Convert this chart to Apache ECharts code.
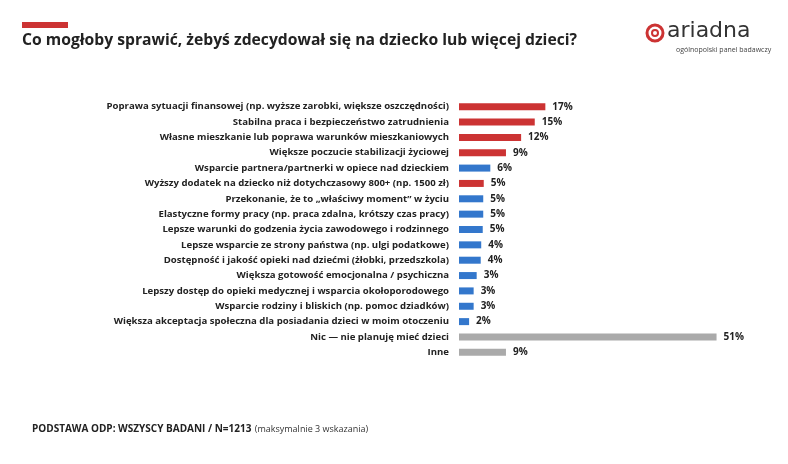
<!DOCTYPE html>
<html><head><meta charset="utf-8">
<script src="https://cdn.jsdelivr.net/npm/echarts@6/dist/echarts.min.js"></script>
<style>body{margin:0}#c{width:788px;height:464px}</style></head>
<body><div id="c"></div>
<script>
const categories = [
"Poprawa sytuacji finansowej (np. wyższe zarobki, większe oszczędności)",
"Stabilna praca i bezpieczeństwo zatrudnienia",
"Własne mieszkanie lub poprawa warunków mieszkaniowych",
"Większe poczucie stabilizacji życiowej",
"Wsparcie partnera/partnerki w opiece nad dzieckiem",
"Wyższy dodatek na dziecko niż dotychczasowy 800+ (np. 1500 zł)",
"Przekonanie, że to „właściwy moment” w życiu",
"Elastyczne formy pracy (np. praca zdalna, krótszy czas pracy)",
"Lepsze warunki do godzenia życia zawodowego i rodzinnego",
"Lepsze wsparcie ze strony państwa (np. ulgi podatkowe)",
"Dostępność i jakość opieki nad dziećmi (żłobki, przedszkola)",
"Większa gotowość emocjonalna / psychiczna",
"Lepszy dostęp do opieki medycznej i wsparcia okołoporodowego",
"Wsparcie rodziny i bliskich (np. pomoc dziadków)",
"Większa akceptacja społeczna dla posiadania dzieci w moim otoczeniu",
"Nic — nie planuję mieć dzieci",
"Inne"];
const values = [17.1,15.0,12.3,9.3,6.2,4.9,4.8,4.8,4.7,4.4,4.3,3.5,2.9,2.9,2.0,51.0,9.3];
const labels = ["17%","15%","12%","9%","6%","5%","5%","5%","5%","4%","4%","3%","3%","3%","2%","51%","9%"];
const groups = ["r","r","r","r","b","r","b","b","b","b","b","b","b","b","b","g","g"];
const colors = {r:"#cc3333",b:"#3377cc",g:"#aaaaaa"};
const chart = echarts.init(document.getElementById('c'));
chart.setOption({
  animation:false,
  graphic:[
    {type:'rect',shape:{x:22,y:22,width:46,height:6},style:{fill:'#cc3333'}},
    {type:'text',left:22,top:33,style:{text:'Co mogłoby sprawić, żebyś zdecydował się na dziecko lub więcej dzieci?',font:'bold 15.7px "Open Sans"',fill:'#222'}},
    {type:'circle',shape:{cx:655,cy:33,r:8},style:{fill:'none',stroke:'#cc3333',lineWidth:3}},
    {type:'circle',shape:{cx:655,cy:33,r:3},style:{fill:'none',stroke:'#cc3333',lineWidth:2}},
    {type:'text',left:667,top:20,style:{text:'ariadna',font:'22px "DejaVu Sans"',fill:'#333'}},
    {type:'text',left:676,top:46,style:{text:'ogólnopolski panel badawczy',font:'7px "Open Sans"',fill:'#444'}},
    {type:'text',left:32,top:423,style:{rich:{a:{font:'bold 10px "Open Sans"',fill:'#222'},b:{font:'9px "Open Sans"',fill:'#333'}},text:'{a|PODSTAWA ODP: WSZYSCY BADANI / N=1213} {b|(maksymalnie 3 wskazania)}'}}
  ],
  grid:{left:459,right:26,top:99,bottom:104},
  xAxis:{type:'value',min:0,max:60,show:false},
  yAxis:{type:'category',inverse:true,data:categories,axisLine:{show:false},axisTick:{show:false},
    axisLabel:{margin:10,fontFamily:'Open Sans',fontWeight:'bold',fontSize:9.6,color:'#222'}},
  series:[{type:'bar',barWidth:7,
    data:values.map((v,i)=>({value:v,itemStyle:{color:colors[groups[i]]}})),
    label:{show:true,position:'right',distance:7,fontFamily:'Open Sans',fontWeight:'bold',fontSize:10,color:'#222',
      formatter:p=>labels[p.dataIndex]}}]
});
</script></body></html>
